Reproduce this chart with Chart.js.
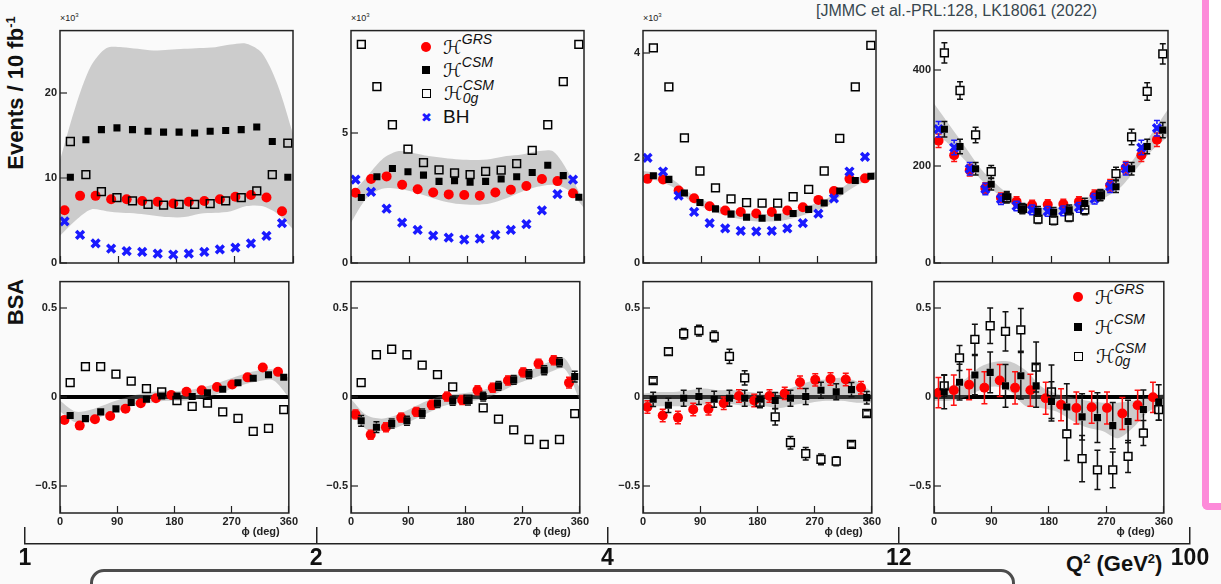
<!DOCTYPE html>
<html>
<head>
<meta charset="utf-8">
<script src="https://cdn.jsdelivr.net/npm/chart.js@4.4.1/dist/chart.umd.min.js"></script>
<style>
  html, body { margin: 0; padding: 0; }
  body { width: 1221px; height: 584px; overflow: hidden; background: #fafafa; font-family: "Liberation Sans", Arial, sans-serif; }
  #fig { position: relative; width: 1221px; height: 584px; }
  canvas { position: absolute; }
  .ytitle { position: absolute; transform: translate(-50%, -50%) rotate(-90deg); font: bold 22px "Liberation Sans", Arial, sans-serif; color: #111; white-space: nowrap; }
  .ytitle sup { font-size: 13px; }
  .x10 { position: absolute; font: 9px "Liberation Sans", Arial, sans-serif; color: #222; }
  .x10 sup { font-size: 6px; }
  .cite { position: absolute; left: 816px; top: 2px; font: 16px "Liberation Sans", Arial, sans-serif; color: #37474f; white-space: nowrap; }
  .q2 { position: absolute; left: 1066px; top: 551px; font: bold 22px "Liberation Sans", Arial, sans-serif; color: #111; white-space: nowrap; }
  .q2 sup { font-size: 13px; }
  .lr { position: absolute; height: 22px; display: flex; align-items: center; white-space: nowrap; }
  .mk { display: inline-block; flex: none; }
  .dot { width: 10px; height: 10px; border-radius: 50%; background: #f00; margin-right: 12px; }
  .sq { width: 8px; height: 8px; background: #000; margin: 0 13px 0 1px; }
  .osq { width: 7px; height: 7px; border: 1.5px solid #000; margin: 0 13px 0 0; }
  .xm { color: #1a1aff; font: bold 13px "DejaVu Sans", sans-serif; width: 10px; margin-right: 12px; }
  .H { font: italic 19px "DejaVu Sans", sans-serif; color: #111; }
  .ss { font: italic 14px "Liberation Sans", Arial, sans-serif; color: #111; position: relative; top: -8px; }
  .ss2 { display: inline-flex; flex-direction: column; font: italic 14px "Liberation Sans", Arial, sans-serif; color: #111; line-height: 13px; position: relative; top: -1px; }
  .bh { font: 19px "Liberation Sans", Arial, sans-serif; color: #111; }
  .pink { position: absolute; left: 1202px; top: -12px; width: 40px; height: 522px; border-left: 7px solid #fd8ad9; border-bottom: 7px solid #fd8ad9; border-bottom-left-radius: 6px; box-sizing: border-box; }
  .whiteR { position: absolute; left: 1209px; top: 0; width: 12px; height: 510px; background: #fff; }
  .box { position: absolute; left: 90px; top: 569px; width: 925px; height: 40px; border: 3px solid #4d4d4d; border-radius: 14px; background: #fdfdfd; box-sizing: border-box; }
</style>
</head>
<body>
<div id="fig">
  <div class="whiteR"></div>
  <div class="pink"></div>
  <div class="cite">[JMMC et al.-PRL:128, LK18061 (2022)</div>
  <div class="ytitle" style="left:16px;top:93px">Events / 10 fb<sup>-1</sup></div>
  <div class="ytitle" style="left:16px;top:302px">BSA</div>
  <div class="x10" style="left:60px;top:12px">×10<sup>3</sup></div>
  <div class="x10" style="left:351px;top:12px">×10<sup>3</sup></div>
  <div class="x10" style="left:643px;top:12px">×10<sup>3</sup></div>
  <div class="q2">Q<sup>2</sup> (GeV<sup>2</sup>)</div>
  <div class="box"></div>

  <div class="lr" style="left:421px;top:36px"><span class="mk dot"></span><span class="H">ℋ</span><span class="ss">GRS</span></div>
  <div class="lr" style="left:421px;top:59px"><span class="mk sq"></span><span class="H">ℋ</span><span class="ss">CSM</span></div>
  <div class="lr" style="left:422px;top:82px"><span class="mk osq"></span><span class="H">ℋ</span><span class="ss2"><span>CSM</span><span>0g</span></span></div>
  <div class="lr" style="left:421px;top:106px"><span class="mk xm">✖</span><span class="bh">BH</span></div>

  <div class="lr" style="left:1073px;top:286px"><span class="mk dot"></span><span class="H">ℋ</span><span class="ss">GRS</span></div>
  <div class="lr" style="left:1073px;top:316px"><span class="mk sq"></span><span class="H">ℋ</span><span class="ss">CSM</span></div>
  <div class="lr" style="left:1074px;top:345px"><span class="mk osq"></span><span class="H">ℋ</span><span class="ss2"><span>CSM</span><span>0g</span></span></div>
</div>

<script>
// bin positions (deg) -- GRS/BH drawn left of bin centre, CSM right of it
const phiA = [7, 31, 55, 79, 103, 127, 151, 175, 199, 223, 247, 271, 295, 319, 343];
const phiB = [16, 40, 64, 88, 112, 136, 160, 184, 208, 232, 256, 280, 304, 328, 352];
const bandPhi = [0, 24, 48, 72, 96, 120, 144, 168, 192, 216, 240, 264, 288, 312, 336, 360];
const phiTicks = [0, 90, 180, 270, 360];
const bsaTicks = [-0.5, 0, 0.5];
const q2Labels = ['1', '2', '4', '12', '100'];

// Events, 1 < Q2 < 2 (x10^3)
const ev1Ticks = [0, 10, 20];
const ev1Grs = [6.2, 7.9, 7.9, 7.5, 7.5, 7.3, 7.2, 7.0, 7.2, 7.3, 7.5, 7.8, 8.0, 7.7, 6.1];
const ev1Csm = [10.1, 14.5, 15.7, 15.9, 15.7, 15.5, 15.4, 15.4, 15.3, 15.5, 15.6, 15.7, 16.0, 14.3, 10.1];
const ev1Csm0g = [14.3, 10.4, 8.4, 7.7, 7.3, 6.9, 6.8, 6.9, 6.9, 7.0, 7.3, 7.7, 8.5, 10.4, 14.1];
const ev1Bh = [4.9, 3.3, 2.3, 1.7, 1.4, 1.3, 1.1, 1.0, 1.1, 1.3, 1.6, 1.8, 2.3, 3.2, 4.7];
const ev1BandHi = [12.1, 18.4, 23.2, 25.3, 25.4, 25.2, 25.0, 25.1, 25.2, 25.3, 25.4, 25.7, 25.8, 24.7, 21.0, 15.2];
const ev1BandLo = [3.2, 5.0, 6.3, 6.1, 5.9, 5.8, 5.6, 5.4, 5.4, 5.8, 5.9, 6.1, 6.7, 6.7, 5.8, 4.0];

// Events, 2 < Q2 < 4 (x10^3)
const ev2Ticks = [0, 5];
const ev2Grs = [2.69, 3.22, 3.32, 3.00, 2.83, 2.70, 2.63, 2.61, 2.58, 2.70, 2.81, 2.95, 3.22, 3.14, 2.67];
const ev2Csm = [2.51, 3.31, 3.62, 3.50, 3.37, 3.13, 3.15, 3.10, 3.13, 3.22, 3.31, 3.47, 3.75, 3.35, 2.52];
const ev2Csm0g = [8.38, 6.76, 5.30, 4.37, 3.85, 3.57, 3.45, 3.39, 3.51, 3.56, 3.81, 4.32, 5.30, 6.95, 8.38];
const ev2Bh = [3.20, 2.73, 2.08, 1.55, 1.27, 1.05, 0.97, 0.90, 0.93, 1.08, 1.27, 1.49, 2.02, 2.64, 3.20];
const ev2BandHi = [2.61, 3.29, 3.97, 4.28, 4.22, 4.10, 4.03, 3.97, 3.95, 3.99, 4.10, 4.16, 4.28, 4.28, 3.47, 2.36];
const ev2BandLo = [1.55, 2.48, 2.85, 2.85, 2.73, 2.54, 2.36, 2.26, 2.23, 2.29, 2.48, 2.73, 2.92, 3.00, 2.79, 2.11];

// Events, 4 < Q2 < 12 (x10^3)
const ev3Ticks = [0, 2, 4];
const ev3Grs = [1.60, 1.59, 1.38, 1.23, 1.08, 1.00, 0.97, 0.94, 0.97, 1.00, 1.06, 1.20, 1.37, 1.60, 1.61];
const ev3Csm = [1.66, 1.59, 1.33, 1.15, 1.03, 0.93, 0.87, 0.85, 0.87, 0.94, 1.02, 1.14, 1.37, 1.57, 1.65];
const ev3Csm0g = [4.09, 3.35, 2.38, 1.75, 1.43, 1.22, 1.15, 1.14, 1.14, 1.26, 1.40, 1.75, 2.37, 3.35, 4.14];
const ev3Bh = [2.00, 1.74, 1.28, 0.97, 0.76, 0.66, 0.61, 0.60, 0.61, 0.66, 0.76, 0.94, 1.23, 1.74, 2.02];
const ev3BandHi = [1.75, 1.70, 1.57, 1.33, 1.18, 1.07, 0.99, 0.94, 0.93, 0.95, 1.02, 1.12, 1.25, 1.47, 1.65, 1.74];
const ev3BandLo = [1.61, 1.56, 1.43, 1.19, 1.04, 0.93, 0.85, 0.80, 0.79, 0.81, 0.88, 0.98, 1.11, 1.33, 1.51, 1.60];

// Events, 12 < Q2 < 100
const ev4Ticks = [0, 200, 400];
const ev4Grs = [253, 223, 192, 155, 135, 127, 120, 121, 122, 127, 140, 161, 197, 223, 255];
const ev4Csm = [277, 241, 195, 163, 137, 112, 107, 105, 110, 123, 140, 158, 195, 241, 275];
const ev4Csm0g = [435, 357, 265, 189, 135, 113, 91, 88, 95, 110, 141, 185, 261, 355, 433];
const ev4Bh = [277, 239, 195, 153, 132, 118, 110, 107, 108, 115, 133, 158, 195, 239, 279];
const ev4GrsErr = [14, 13, 12, 11, 10, 10, 10, 10, 10, 10, 11, 12, 13, 13, 14];
const ev4CsmErr = [16, 15, 13, 12, 11, 10, 10, 10, 10, 11, 11, 12, 13, 15, 16];
const ev4Csm0gErr = [21, 18, 16, 13, 11, 10, 9, 9, 9, 10, 11, 13, 16, 18, 21];
const ev4BhErr = [16, 15, 13, 12, 11, 10, 10, 10, 10, 10, 11, 12, 13, 15, 16];
const ev4BandHi = [330, 285, 240, 195, 163, 137, 118, 114, 115, 122, 138, 156, 182, 224, 270, 318];
const ev4BandLo = [270, 245, 212, 173, 145, 121, 102, 98, 99, 106, 120, 136, 158, 196, 234, 262];

// BSA
const bsa1Grs = [-0.127, -0.159, -0.123, -0.105, -0.064, -0.033, -0.005, 0.013, 0.031, 0.040, 0.058, 0.072, 0.112, 0.167, 0.143];
const bsa1Csm = [-0.102, -0.120, -0.082, -0.065, -0.029, -0.011, 0.007, 0.007, 0.004, 0.026, 0.045, 0.082, 0.107, 0.127, 0.113];
const bsa1Csm0g = [0.082, 0.172, 0.172, 0.130, 0.091, 0.049, 0.031, -0.018, -0.051, -0.033, -0.082, -0.118, -0.192, -0.174, -0.069];
const bsa1BandHi = [-0.02, -0.08, -0.07, -0.04, -0.01, 0.015, 0.03, 0.035, 0.035, 0.05, 0.07, 0.10, 0.13, 0.15, 0.155, 0.11];
const bsa1BandLo = [-0.08, -0.14, -0.13, -0.10, -0.07, -0.045, -0.03, -0.02, -0.02, -0.01, 0.01, 0.04, 0.07, 0.09, 0.095, 0.0];

const bsa2Grs = [-0.096, -0.210, -0.168, -0.114, -0.082, -0.042, 0.004, -0.015, 0.040, 0.054, 0.094, 0.140, 0.189, 0.208, 0.082];
const bsa2Csm = [-0.132, -0.168, -0.147, -0.132, -0.091, -0.033, -0.020, -0.018, 0.004, 0.064, 0.098, 0.130, 0.152, 0.197, 0.116];
const bsa2Csm0g = [0.082, 0.239, 0.270, 0.239, 0.181, 0.127, 0.058, -0.011, -0.060, -0.123, -0.183, -0.237, -0.265, -0.237, -0.092];
const bsa2GrsErr = [0.025, 0.025, 0.025, 0.025, 0.025, 0.025, 0.025, 0.025, 0.025, 0.025, 0.025, 0.025, 0.025, 0.025, 0.03];
const bsa2CsmErr = [0.03, 0.03, 0.025, 0.025, 0.025, 0.025, 0.025, 0.025, 0.025, 0.025, 0.025, 0.025, 0.025, 0.025, 0.03];
const bsa2BandHi = [-0.01, -0.10, -0.12, -0.10, -0.06, -0.02, 0.01, 0.02, 0.03, 0.05, 0.09, 0.13, 0.16, 0.20, 0.22, 0.05];
const bsa2BandLo = [-0.06, -0.18, -0.19, -0.17, -0.13, -0.09, -0.05, -0.03, -0.02, 0.0, 0.04, 0.08, 0.11, 0.14, 0.16, -0.02];

const bsa3Grs = [-0.054, -0.102, -0.114, -0.069, -0.065, -0.033, 0.007, -0.018, 0.007, 0.022, 0.085, 0.098, 0.103, 0.100, 0.054];
const bsa3Csm = [-0.011, -0.045, -0.005, 0.004, -0.011, -0.005, -0.005, -0.011, -0.018, -0.005, 0.004, 0.040, 0.031, 0.043, -0.002];
const bsa3Csm0g = [0.094, 0.257, 0.357, 0.375, 0.342, 0.230, 0.109, -0.029, -0.110, -0.255, -0.317, -0.349, -0.359, -0.265, -0.091];
const bsa3GrsErr = [0.035, 0.035, 0.035, 0.035, 0.035, 0.035, 0.035, 0.035, 0.035, 0.035, 0.035, 0.035, 0.035, 0.035, 0.035];
const bsa3CsmErr = [0.04, 0.04, 0.045, 0.045, 0.045, 0.045, 0.045, 0.04, 0.045, 0.045, 0.045, 0.045, 0.045, 0.04, 0.035];
const bsa3Csm0gErr = [0.015, 0.02, 0.03, 0.03, 0.03, 0.04, 0.04, 0.03, 0.045, 0.035, 0.035, 0.03, 0.025, 0.015, 0.015];
const bsa3BandHi = [0.02, 0.03, 0.03, 0.04, 0.05, 0.04, 0.04, 0.03, 0.02, 0.03, 0.06, 0.09, 0.10, 0.11, 0.09, 0.03];
const bsa3BandLo = [-0.04, -0.05, -0.05, -0.05, -0.04, -0.03, -0.04, -0.05, -0.05, -0.06, -0.04, -0.03, -0.02, -0.02, -0.03, -0.03];

const bsa4Grs = [0.026, 0.040, 0.071, 0.054, 0.094, 0.053, 0.040, -0.005, -0.042, -0.060, -0.056, -0.060, -0.091, -0.045, 0.0];
const bsa4Csm = [0.031, 0.085, 0.125, 0.140, 0.064, 0.121, 0.064, -0.023, -0.054, -0.110, -0.114, -0.159, -0.136, -0.069, -0.029];
const bsa4Csm0g = [0.064, 0.221, 0.326, 0.402, 0.370, 0.379, 0.170, 0.031, -0.205, -0.344, -0.408, -0.408, -0.332, -0.201, -0.069];
const bsa4GrsErr = [0.085, 0.085, 0.085, 0.09, 0.09, 0.09, 0.09, 0.09, 0.09, 0.09, 0.09, 0.09, 0.09, 0.085, 0.085];
const bsa4CsmErr = [0.095, 0.10, 0.11, 0.115, 0.12, 0.13, 0.12, 0.11, 0.13, 0.13, 0.14, 0.13, 0.12, 0.11, 0.1];
const bsa4Csm0gErr = [0.06, 0.07, 0.085, 0.1, 0.11, 0.12, 0.14, 0.15, 0.15, 0.13, 0.11, 0.1, 0.09, 0.07, 0.06];
const bsa4BandHi = [0.04, 0.06, 0.10, 0.17, 0.20, 0.20, 0.15, 0.06, 0.02, 0.0, -0.02, -0.03, -0.03, -0.02, 0.0, 0.02];
const bsa4BandLo = [-0.02, -0.02, 0.0, 0.04, 0.06, 0.03, -0.05, -0.06, -0.08, -0.13, -0.17, -0.19, -0.23, -0.17, -0.08, -0.04];

// ---------------------------------------------------------------
Chart.defaults.font.family = '"Liberation Sans", Arial, sans-serif';
Chart.defaults.color = '#1a1a1a';
Chart.defaults.animation = false;
Chart.defaults.plugins.legend.display = false;
Chart.defaults.plugins.tooltip.enabled = false;

// frame round each pad, like ROOT does
const framePlugin = {
  id: 'frame',
  afterDraw(chart) {
    const a = chart.chartArea;
    const ctx = chart.ctx;
    ctx.save();
    ctx.strokeStyle = '#222';
    ctx.lineWidth = 1.5;
    ctx.strokeRect(a.left, a.top, a.right - a.left, a.bottom - a.top);
    ctx.restore();
  }
};

// vertical error bars with caps, skipping the marker itself
const errorBarPlugin = {
  id: 'errorBars',
  afterDatasetDraw(chart, args) {
    const ds = chart.data.datasets[args.index];
    if (!ds.errs) return;
    const ys = chart.scales.y;
    const ctx = chart.ctx;
    const gap = ds.pointRadius * 0.75;
    ctx.save();
    ctx.strokeStyle = ds.errColor;
    ctx.lineWidth = 1.5;
    args.meta.data.forEach((p, j) => {
      const v = ds.data[j].y;
      const e = ds.errs[j];
      const top = ys.getPixelForValue(v + e);
      const bot = ys.getPixelForValue(v - e);
      ctx.beginPath();
      if (top < p.y - gap) { ctx.moveTo(p.x, top); ctx.lineTo(p.x, p.y - gap); }
      if (bot > p.y + gap) { ctx.moveTo(p.x, p.y + gap); ctx.lineTo(p.x, bot); }
      ctx.moveTo(p.x - 3, top); ctx.lineTo(p.x + 3, top);
      ctx.moveTo(p.x - 3, bot); ctx.lineTo(p.x + 3, bot);
      ctx.stroke();
    });
    ctx.restore();
  }
};

function pts(xs, ys) {
  return xs.map((x, i) => ({ x: x, y: ys[i] }));
}

function grsSet(vals, errs) {
  return { data: pts(phiA, vals), showLine: false, pointStyle: 'circle', pointRadius: 5,
    backgroundColor: '#ff0000', borderColor: '#ff0000', borderWidth: 0, order: 4, errs: errs, errColor: '#ff1010' };
}
function csmSet(vals, errs) {
  return { data: pts(phiB, vals), showLine: false, pointStyle: 'rect', pointRadius: 5,
    backgroundColor: '#000', borderColor: '#000', borderWidth: 0, order: 1, errs: errs, errColor: '#111' };
}
function csm0gSet(vals, errs) {
  return { data: pts(phiB, vals), showLine: false, pointStyle: 'rect', pointRadius: 5.5,
    backgroundColor: 'rgba(0,0,0,0)', borderColor: '#000', borderWidth: 1.5, order: 2, errs: errs, errColor: '#111' };
}
function bhSet(vals, errs) {
  return { data: pts(phiA, vals), showLine: false, pointStyle: 'crossRot', pointRadius: 5.5,
    backgroundColor: '#1a1aff', borderColor: '#1a1aff', borderWidth: 3.5, order: 3, errs: errs, errColor: '#1a1aff' };
}
function bandSets(hi, lo) {
  return [
    { data: pts(bandPhi, lo), pointRadius: 0, borderWidth: 1, borderColor: 'rgba(0,0,0,0)', fill: false, tension: 0.3, order: 10 },
    { data: pts(bandPhi, hi), pointRadius: 0, borderWidth: 1, borderColor: 'rgba(0,0,0,0)', fill: '-1',
      backgroundColor: 'rgba(130,130,130,0.38)', tension: 0.3, order: 10 }
  ];
}

// pad geometry
const colLeft = [60, 351, 643, 934];
const colRight = [293, 584, 876, 1168];
const rowTop = [24, 275];
const rowBottom = [263, 513];
const PAD_L = 45, PAD_R = 14, PAD_T = 10, PAD_B = 28;

function makeCanvas(left, top, w, h) {
  const c = document.createElement('canvas');
  c.width = w;
  c.height = h;
  c.style.left = left + 'px';
  c.style.top = top + 'px';
  c.style.width = w + 'px';
  c.style.height = h + 'px';
  document.getElementById('fig').appendChild(c);
  return c;
}

function fmtTick(v) {
  return v < 0 ? '\u2212' + Math.abs(v) : String(v);
}

function panel(col, row, yMin, yMax, yTicks, datasets) {
  const l = colLeft[col], r = colRight[col], t = rowTop[row], b = rowBottom[row];
  const canvas = makeCanvas(l - PAD_L, t - PAD_T, r - l + PAD_L + PAD_R, b - t + PAD_T + PAD_B);
  const isBsa = row === 1;
  return new Chart(canvas, {
    type: 'line',
    data: { datasets: datasets },
    options: {
      responsive: false,
      devicePixelRatio: 1,
      layout: { padding: { left: 0, right: PAD_R, top: PAD_T, bottom: 0 }, autoPadding: false },
      scales: {
        x: {
          type: 'linear', min: 0, max: 360,
          afterBuildTicks: s => { s.ticks = phiTicks.map(v => ({ value: v })); },
          afterFit: s => { s.height = PAD_B; },
          grid: { drawOnChartArea: false, drawTicks: true, tickLength: -7, tickColor: '#222', tickWidth: 1.2 },
          border: { display: false },
          ticks: { display: isBsa, font: { size: 11, weight: 'bold' }, color: '#222', padding: 9, maxRotation: 0 },
          title: { display: isBsa, text: 'ϕ (deg)   ', align: 'end', font: { size: 11, weight: 'bold' }, color: '#222', padding: { top: 0, bottom: 2 } }
        },
        y: {
          type: 'linear', min: yMin, max: yMax,
          afterBuildTicks: s => { s.ticks = yTicks.map(v => ({ value: v })); },
          afterFit: s => { s.width = PAD_L; },
          grid: {
            drawOnChartArea: isBsa,
            color: c => (c.tick && c.tick.value === 0) ? '#000' : 'rgba(0,0,0,0)',
            lineWidth: 4,
            drawTicks: true, tickLength: -7, tickColor: '#222', tickWidth: 1.2
          },
          border: { display: false },
          ticks: { font: { size: 11, weight: 'bold' }, color: '#222', padding: 10, callback: v => fmtTick(v) }
        }
      }
    },
    plugins: [errorBarPlugin, framePlugin]
  });
}

// top row: event counts
panel(0, 0, 0, 27.35, ev1Ticks, [grsSet(ev1Grs), csmSet(ev1Csm), csm0gSet(ev1Csm0g), bhSet(ev1Bh), ...bandSets(ev1BandHi, ev1BandLo)]);
panel(1, 0, 0, 8.91, ev2Ticks, [grsSet(ev2Grs), csmSet(ev2Csm), csm0gSet(ev2Csm0g), bhSet(ev2Bh), ...bandSets(ev2BandHi, ev2BandLo)]);
panel(2, 0, 0, 4.42, ev3Ticks, [grsSet(ev3Grs), csmSet(ev3Csm), csm0gSet(ev3Csm0g), bhSet(ev3Bh), ...bandSets(ev3BandHi, ev3BandLo)]);
panel(3, 0, 0, 481, ev4Ticks, [grsSet(ev4Grs, ev4GrsErr), csmSet(ev4Csm, ev4CsmErr), csm0gSet(ev4Csm0g, ev4Csm0gErr), bhSet(ev4Bh, ev4BhErr), ...bandSets(ev4BandHi, ev4BandLo)]);

// bottom row: beam spin asymmetry
panel(0, 1, -0.65, 0.65, bsaTicks, [grsSet(bsa1Grs), csmSet(bsa1Csm), csm0gSet(bsa1Csm0g), ...bandSets(bsa1BandHi, bsa1BandLo)]);
panel(1, 1, -0.65, 0.65, bsaTicks, [grsSet(bsa2Grs, bsa2GrsErr), csmSet(bsa2Csm, bsa2CsmErr), csm0gSet(bsa2Csm0g), ...bandSets(bsa2BandHi, bsa2BandLo)]);
panel(2, 1, -0.65, 0.65, bsaTicks, [grsSet(bsa3Grs, bsa3GrsErr), csmSet(bsa3Csm, bsa3CsmErr), csm0gSet(bsa3Csm0g, bsa3Csm0gErr), ...bandSets(bsa3BandHi, bsa3BandLo)]);
panel(3, 1, -0.65, 0.65, bsaTicks, [grsSet(bsa4Grs, bsa4GrsErr), csmSet(bsa4Csm, bsa4CsmErr), csm0gSet(bsa4Csm0g, bsa4Csm0gErr), ...bandSets(bsa4BandHi, bsa4BandLo)]);

// outer Q2 axis along the bottom
const q2Canvas = makeCanvas(0, 500, 1221, 84);
new Chart(q2Canvas, {
  type: 'line',
  data: { labels: q2Labels, datasets: [{ data: [] }] },
  options: {
    responsive: false,
    devicePixelRatio: 1,
    layout: { padding: { left: 25, right: 31, top: 27, bottom: 0 }, autoPadding: false },
    scales: {
      x: {
        type: 'category', offset: false,
        afterFit: s => { s.height = 40; },
        grid: { drawOnChartArea: true, drawTicks: false, color: '#222', lineWidth: 1.5 },
        border: { display: true, color: '#222', width: 1.5 },
        ticks: { font: { size: 23, weight: 'bold' }, color: '#111', padding: 1, autoSkip: false, maxRotation: 0 }
      },
      y: { display: false }
    }
  }
});
</script>
</body>
</html>
